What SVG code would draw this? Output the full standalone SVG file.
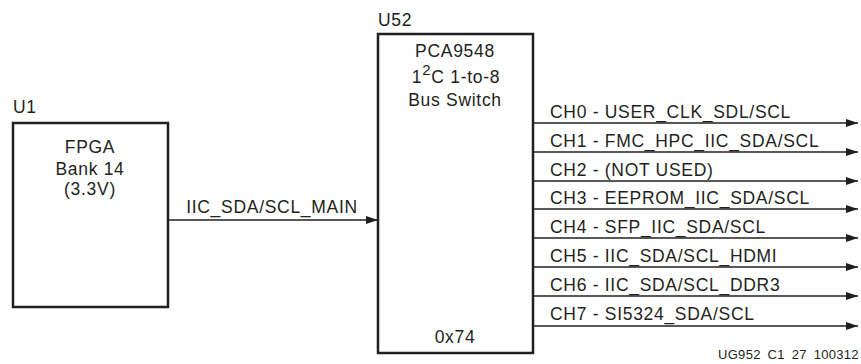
<svg xmlns="http://www.w3.org/2000/svg" width="861" height="364" viewBox="0 0 861 364">
<style>
text{font-family:"Liberation Sans",Arial,sans-serif;fill:#231f20;font-size:17.5px;letter-spacing:0.7px}
.box{fill:#fff;stroke:#231f20;stroke-width:2.5}
.ln{stroke:#231f20;stroke-width:1.5;fill:none;marker-end:url(#ah)}
.c{text-anchor:middle}
.sm{font-size:13px;letter-spacing:0.3px;word-spacing:3px}
</style>
<defs>
<marker id="ah" markerWidth="12" markerHeight="8" refX="12" refY="4" orient="auto" markerUnits="userSpaceOnUse">
<path d="M0,0 L12,4 L0,8 Z" fill="#231f20"/>
</marker>
</defs>
<rect width="861" height="364" fill="#fff"/>
<g id="u1">
<text x="13" y="113">U1</text>
<rect class="box" x="13" y="123" width="155" height="184"/>
<text class="c" x="90" y="153">FPGA</text>
<text class="c" x="90" y="175">Bank 14</text>
<text class="c" x="90" y="195">(3.3V)</text>
</g>
<g id="u52">
<text x="378" y="26">U52</text>
<rect class="box" x="378" y="34" width="155" height="319"/>
<text class="c" x="455" y="57">PCA9548</text>
<text class="c" x="456" y="83">1<tspan dy="-8" font-size="15">2</tspan><tspan dy="8">C 1-to-8</tspan></text>
<text class="c" x="455" y="106">Bus Switch</text>
<text class="c" x="455" y="343">0x74</text>
</g>
<g id="connectors">
<line class="ln" x1="168" y1="220" x2="378" y2="220"/>
<line class="ln" x1="533" y1="123" x2="858" y2="123"/>
<line class="ln" x1="533" y1="152" x2="858" y2="152"/>
<line class="ln" x1="533" y1="181" x2="858" y2="181"/>
<line class="ln" x1="533" y1="209" x2="858" y2="209"/>
<line class="ln" x1="533" y1="238" x2="858" y2="238"/>
<line class="ln" x1="533" y1="267" x2="858" y2="267"/>
<line class="ln" x1="533" y1="296" x2="858" y2="296"/>
<line class="ln" x1="533" y1="326" x2="858" y2="326"/>
</g>
<g id="labels">
<text class="c" x="272" y="213">IIC_SDA/SCL_MAIN</text>
<text x="550" y="118">CH0 - USER_CLK_SDL/SCL</text>
<text x="550" y="147">CH1 - FMC_HPC_IIC_SDA/SCL</text>
<text x="550" y="176">CH2 - (NOT USED)</text>
<text x="550" y="204">CH3 - EEPROM_IIC_SDA/SCL</text>
<text x="550" y="233">CH4 - SFP_IIC_SDA/SCL</text>
<text x="550" y="262">CH5 - IIC_SDA/SCL_HDMI</text>
<text x="550" y="291">CH6 - IIC_SDA/SCL_DDR3</text>
<text x="550" y="320">CH7 - SI5324_SDA/SCL</text>
<text class="sm" x="718" y="359">UG952 C1 27 100312</text>
</g>
</svg>
